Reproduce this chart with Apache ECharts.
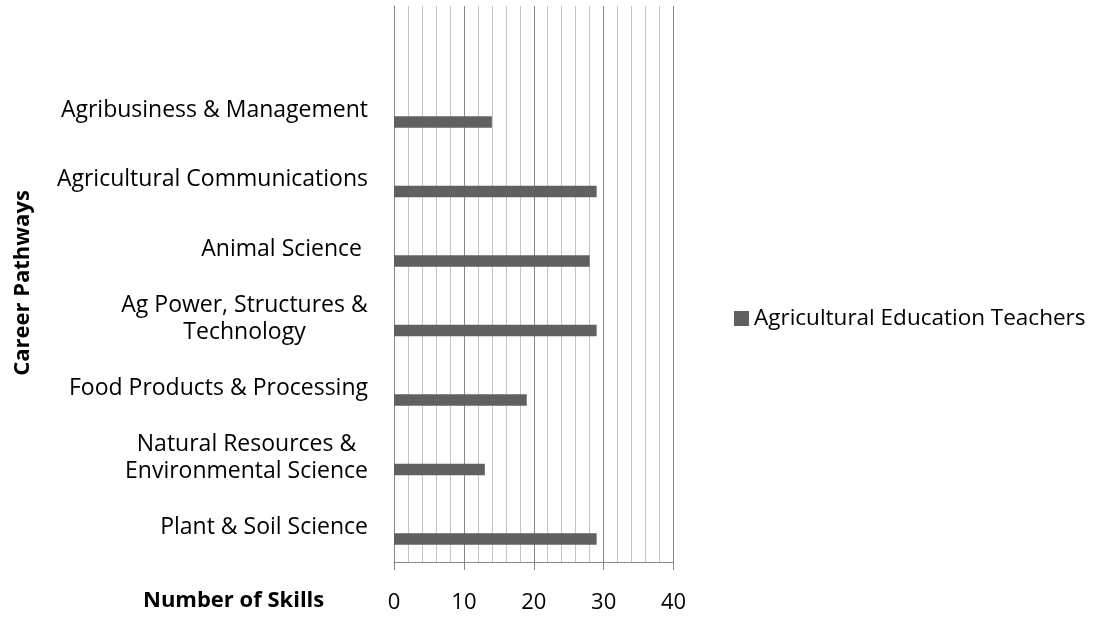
<!DOCTYPE html>
<html>
<head>
<meta charset="utf-8">
<script src="https://cdn.jsdelivr.net/npm/echarts@6/dist/echarts.min.js"></script>
<style>
html,body{margin:0;padding:0;background:#fff;}
#chart{width:1097px;height:619px;}
#measure{position:absolute;left:-9999px;top:0;white-space:pre;font-family:"Open Sans";}
</style>
</head>
<body>
<div id="chart"></div>
<span id="measure"></span>
<script>
// Categories, top to bottom (first slot is empty in the original)
var categories = ['', 'Agribusiness & Management', 'Agricultural Communications', 'Animal Science ',
  'Ag Power, Structures &\nTechnology', 'Food Products & Processing',
  'Natural Resources &\nEnvironmental Science', 'Plant & Soil Science'];
var teachers = ['-', 14, 29, 28, 29, 19, 13, 29];
var xTicks = [0, 10, 20, 30, 40];
var seriesName = 'Agricultural Education Teachers';
var xTitle = 'Number of Skills';
var yTitle = 'Career Pathways';

var FONT = 'Open Sans';
var FS = 23;

var meas = document.getElementById('measure');
meas.style.fontSize = FS + 'px';
function textWidth(s) { meas.textContent = s; return meas.getBoundingClientRect().width; }

var rich = {};
categories.forEach(function (c, i) {
  var lines = c.split('\n');
  if (lines.length > 1) {
    var w = 0;
    lines.forEach(function (l) { w = Math.max(w, textWidth(l)); });
    rich['c' + i] = { width: Math.ceil(w), align: 'center', fontFamily: FONT, fontSize: FS, color: '#000', lineHeight: 27 };
  }
});
function fmtLabel(v) {
  var i = categories.indexOf(v);
  var lines = v.split('\n');
  if (lines.length === 1) return v;
  return lines.map(function (l) { return '{c' + i + '|' + l + '}'; }).join('\n');
}

var chart = echarts.init(document.getElementById('chart'), null, { renderer: 'canvas' });
chart.setOption({
  animation: false,
  textStyle: { fontFamily: FONT },
  grid: { left: 394, right: 423.5, top: 6, bottom: 57, containLabel: false },
  legend: {
    data: [seriesName],
    orient: 'vertical',
    left: 729, top: 302,
    itemWidth: 15, itemHeight: 15, itemGap: 8,
    icon: 'rect',
    textStyle: { fontFamily: FONT, fontSize: 22.5, color: '#000' }
  },
  xAxis: {
    type: 'value', min: xTicks[0], max: xTicks[xTicks.length - 1], interval: 10,
    axisLine: { show: true, lineStyle: { color: '#868686', width: 1 } },
    axisTick: { show: true, length: 8, lineStyle: { color: '#868686' } },
    axisLabel: { margin: 30, fontFamily: FONT, fontSize: 22, color: '#000' },
    splitLine: { show: true, lineStyle: { color: '#868686', width: 1 } },
    minorTick: { show: false, splitNumber: 5 },
    minorSplitLine: { show: true, lineStyle: { color: '#c4c4c4', width: 1 } }
  },
  yAxis: {
    type: 'category', data: categories, inverse: true,
    axisLine: { show: true, lineStyle: { color: '#868686', width: 1 } },
    axisTick: { show: false },
    splitLine: { show: false },
    axisLabel: { margin: 26, fontFamily: FONT, fontSize: FS, color: '#000', lineHeight: 27, interval: 0, formatter: fmtLabel, rich: rich }
  },
  series: [
    { name: 'spacer', type: 'bar', data: categories.map(function () { return '-'; }), barWidth: 11.4, barGap: '106%', silent: true },
    { name: seriesName, type: 'bar', data: teachers, barWidth: 11.4, barGap: '106%', itemStyle: { color: '#606060' } }
  ],
  graphic: [
    { type: 'text', left: 143, top: 590, style: { text: xTitle, fontFamily: FONT, fontSize: 22, fontWeight: 'bold', fill: '#000' } },
    { type: 'text', x: 12, y: 283, rotation: Math.PI / 2,
      style: { text: yTitle, fontFamily: FONT, fontSize: 22, fontWeight: 'bold', fill: '#000', align: 'center', verticalAlign: 'top' } }
  ]
});
</script>
</body>
</html>
